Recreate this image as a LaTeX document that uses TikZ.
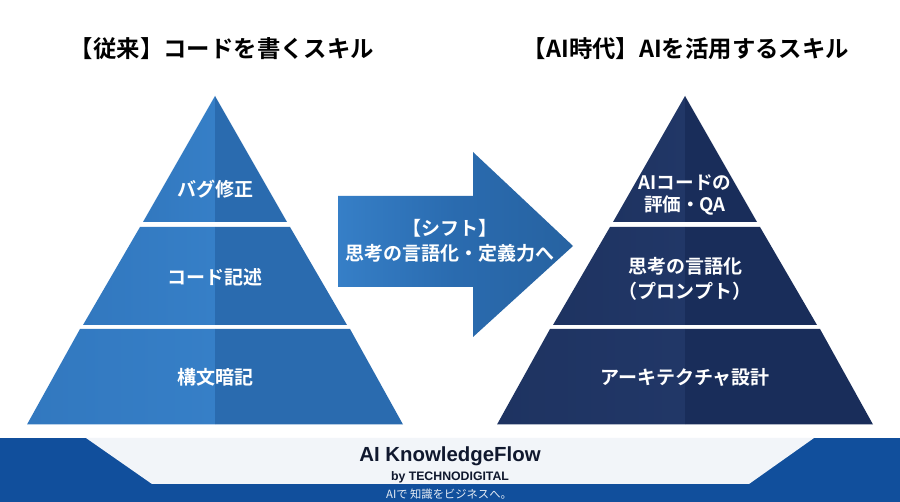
\documentclass[tikz,border=0pt]{standalone}
\usepackage{fontspec}
\setmainfont{Noto Sans CJK JP}[BoldFont={Noto Sans CJK JP Bold}]
\newfontfamily\latinfont{Liberation Sans}[BoldFont={Liberation Sans Bold}]
\definecolor{blueEdge}{HTML}{3278BF}
\definecolor{blueMid}{HTML}{367FC7}
\definecolor{blueRight}{HTML}{2A6BAF}
\definecolor{navyEdge}{HTML}{1E3361}
\definecolor{navyMid}{HTML}{213767}
\definecolor{navyRight}{HTML}{192D5A}
\definecolor{footBlue}{HTML}{114F9C}
\definecolor{footPale}{HTML}{F2F5F9}
\definecolor{inkDark}{HTML}{10182E}
\tikzset{
  x=1pt,y=-1pt,
  title/.style={font=\bfseries\fontsize{23.4}{28}\selectfont,text=black,inner sep=0pt},
  lbl/.style={font=\bfseries\fontsize{19}{25}\selectfont,text=white,align=center,inner sep=0pt},
  lbltight/.style={font=\bfseries\fontsize{18.6}{22.5}\selectfont,text=white,align=center,inner sep=0pt},
  bl/.style={left color=blueEdge,right color=blueMid},
  br/.style={left color=blueRight,right color=blueRight},
  nl/.style={left color=navyEdge,right color=navyMid},
  nr/.style={left color=navyRight,right color=navyRight},
}
% #1 centre x, #2 half-width top, #3 half-width bottom, #4 y top, #5 y bottom, #6 left style, #7 right style
\newcommand{\pyrband}[7]{%
  \shade[#6] ({#1-#2},#4) -- (#1,#4) -- (#1,#5) -- ({#1-#3},#5) -- cycle;
  \shade[#7] (#1,#4) -- ({#1+#2},#4) -- ({#1+#3},#5) -- (#1,#5) -- cycle;
}
\begin{document}
\begin{tikzpicture}
\useasboundingbox (0,0) rectangle (900,502);
\fill[white] (0,0) rectangle (900,502);

\node[title] (t1) at (222,49) {【従来】コードを書くスキル};
\node[title] (t2) at (686,49) {【AI時代】AIを活用するスキル};

% left pyramid
\pyrband{215}{0}{72}{96}{222}{bl}{br}
\pyrband{215}{75}{132}{227}{325}{bl}{br}
\pyrband{215}{135}{188}{329}{424.5}{bl}{br}
% right pyramid
\pyrband{685}{0}{72}{96}{222}{nl}{nr}
\pyrband{685}{75}{132}{227}{325}{nl}{nr}
\pyrband{685}{135}{188}{329}{424.5}{nl}{nr}

% arrow
\shade[left color=blueMid,right color=blueRight!92!black,middle color=blueRight]
  (338,196) -- (473,196) -- (473,152) -- (573,246) -- (473,337) -- (473,287) -- (338,287) -- cycle;

\node[lbl] (a1) at (215,189) {バグ修正};
\node[lbl] (a2) at (215,277) {コード記述};
\node[lbl] (a3) at (215,377) {構文暗記};
\node[lbl] (s1) at (450,241) {【シフト】\\思考の言語化・定義力へ};
\node[lbltight] (b1) at (685,195) {AIコードの\\評価・QA};
\node[lbl] (b2) at (685,279) {思考の言語化\\（プロンプト）};
\node[lbl] (b3) at (685,377) {アーキテクチャ設計};

% footer
\fill[footBlue] (0,438) rectangle (900,502);
\fill[footPale] (86,438) -- (814,438) -- (749,484) -- (152,484) -- cycle;
\node[font=\latinfont\bfseries\fontsize{20.4}{24}\selectfont,text=inkDark,inner sep=0pt] (f1) at (450,456.5) {AI KnowledgeFlow};
\node[font=\latinfont\bfseries\fontsize{12.3}{14}\selectfont,text=inkDark,inner sep=0pt] (f2) at (450,477) {by TECHNODIGITAL};
\node[font=\fontsize{11.3}{13}\selectfont,text=white!90!footBlue,inner sep=0pt] (f3) at (449,494) {AIで 知識をビジネスへ。};
\end{tikzpicture}
\end{document}
